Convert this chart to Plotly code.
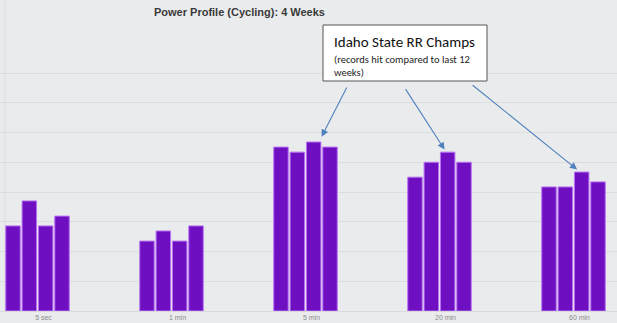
import plotly.graph_objects as go

# ---- data (unitless, 1 unit = one gridline) ----
categories = ["5 sec", "1 min", "5 min", "20 min", "60 min"]
week1 = [2.86, 2.35, 5.51, 4.50, 4.17]
week2 = [3.70, 2.69, 5.34, 5.00, 4.17]
week3 = [2.86, 2.35, 5.68, 5.34, 4.67]
week4 = [3.19, 2.86, 5.51, 5.00, 4.34]
series = [week1, week2, week3, week4]
series_names = ["Week 1", "Week 2", "Week 3", "Week 4"]

title_text = "Power Profile (Cycling): 4 Weeks"
callout_title = "Idaho State RR Champs"
callout_sub1 = "(records hit compared to last 12"
callout_sub2 = "weeks)"

W, H = 617, 323
BOTTOM = 12
PLOT_H = H - BOTTOM
BG = "#eaebed"
GRID = "#dcdde0"
BAR = "#6f0fc2"
EDGE = "#b872f2"
ARROW = "#4f81bd"

x_idx = list(range(len(categories)))
slot = 0.122
bw = 0.108

fig = go.Figure()
for s, vals in enumerate(series):
    fig.add_trace(go.Bar(
        x=x_idx, y=vals, name=series_names[s],
        width=bw, offset=(-2 + s) * slot + (slot - bw) / 2,
        marker=dict(color=BAR, line=dict(color=EDGE, width=1)),
        hoverinfo="skip",
    ))

def px_x(p):
    return p / W

def px_y(p):
    return (PLOT_H - p) / PLOT_H

shapes = [
    dict(type="rect", xref="paper", yref="paper",
         x0=px_x(323), x1=px_x(487), y0=px_y(81), y1=px_y(25),
         fillcolor="white", line=dict(color="#555555", width=1), layer="above"),
    dict(type="line", xref="paper", yref="paper",
         x0=px_x(5), x1=px_x(5), y0=0, y1=1,
         line=dict(color="#dcdde0", width=1), layer="below"),
]

annotations = [
    dict(text="<b>" + title_text + "</b>", xref="paper", yref="paper",
         x=px_x(152), y=px_y(12), xanchor="left", yanchor="middle",
         showarrow=False, font=dict(family="Liberation Sans, Arial", size=11, color="#3a3a3a")),
    dict(text=callout_title, xref="paper", yref="paper",
         x=px_x(332), y=px_y(42), xanchor="left", yanchor="middle",
         showarrow=False, font=dict(family="Carlito, Lato", size=15, color="#111111")),
    dict(text=callout_sub1, xref="paper", yref="paper",
         x=px_x(332), y=px_y(59), xanchor="left", yanchor="middle",
         showarrow=False, font=dict(family="Carlito, Lato", size=10.5, color="#222222")),
    dict(text=callout_sub2, xref="paper", yref="paper",
         x=px_x(332), y=px_y(72), xanchor="left", yanchor="middle",
         showarrow=False, font=dict(family="Carlito, Lato", size=10.5, color="#222222")),
]

# arrows pointing to the record bars (week 3 of 5 min, 20 min, 60 min)
arrow_targets = [(2, 0.10, 28.6, -56, 6), (3, 0.05, -41.6, -64.5, 3), (4, 0.05, -109, -88, 4)]
for ci, dx, ax, ay, so in arrow_targets:
    annotations.append(dict(
        x=ci + dx, y=week3[ci], xref="x", yref="y", text="",
        showarrow=True, arrowhead=2, arrowsize=1.3, arrowwidth=1.1,
        arrowcolor=ARROW, ax=ax, ay=ay, standoff=so,
    ))

x0 = -37.5 / 134
x1 = (W - 37.5) / 134
y_top = PLOT_H / 29.75

fig.update_layout(
    width=W, height=H,
    margin=dict(l=0, r=0, t=0, b=BOTTOM),
    paper_bgcolor=BG, plot_bgcolor=BG,
    barmode="overlay", showlegend=False,
    shapes=shapes, annotations=annotations,
    xaxis=dict(range=[x0, x1], tickvals=x_idx, ticktext=categories,
               showgrid=False, zeroline=False, showline=True, linecolor="#d8d9dc",
               ticks="", ticklabelshift=6,
               tickfont=dict(family="Liberation Sans, Arial", size=7, color="#8c8c8c"),
               fixedrange=True),
    yaxis=dict(range=[0, y_top], tickvals=list(range(1, 9)), showticklabels=False,
               showgrid=True, gridcolor=GRID, gridwidth=1, zeroline=False,
               fixedrange=True),
)

fig.write_html("out.html")
